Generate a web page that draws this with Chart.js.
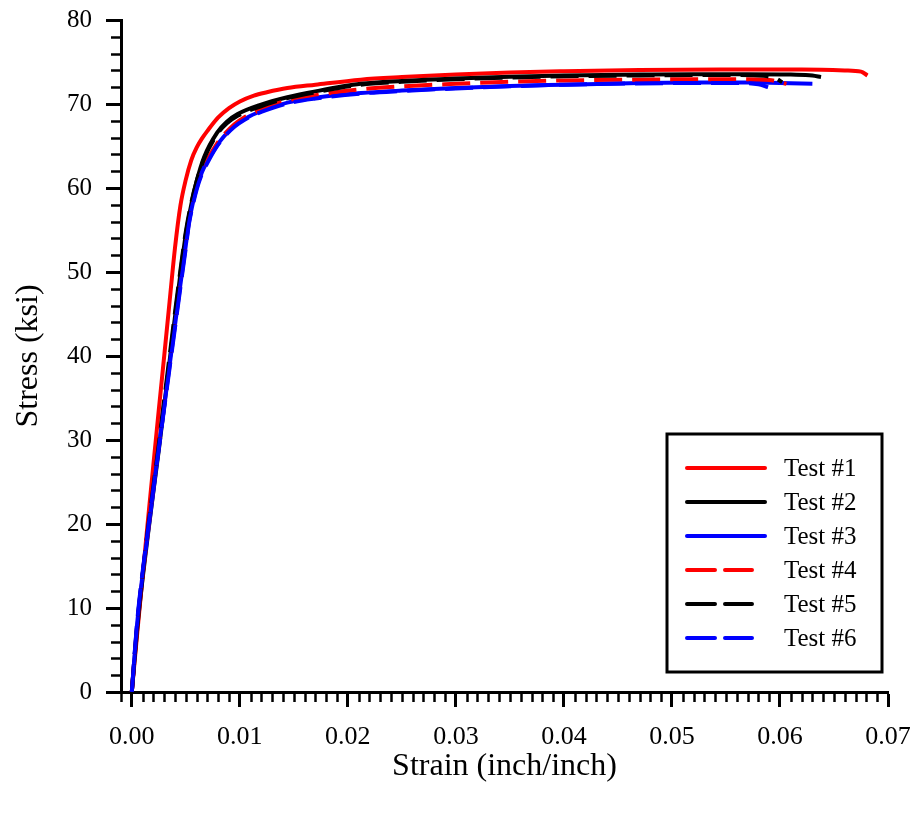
<!DOCTYPE html>
<html><head><meta charset="utf-8">
<script src="https://cdn.jsdelivr.net/npm/chart.js@4.4.0/dist/chart.umd.min.js"></script>
<style>html,body{margin:0;padding:0;background:#fff;}</style>
</head><body>
<canvas id="c" width="915" height="814"></canvas>
<script>
// ---- data ----
const xTickValues = [0, 0.01, 0.02, 0.03, 0.04, 0.05, 0.06, 0.07];
const yTickValues = [0, 10, 20, 30, 40, 50, 60, 70, 80];
const seriesLabels = ['Test #1', 'Test #2', 'Test #3', 'Test #4', 'Test #5', 'Test #6'];
const xTitle = 'Strain (inch/inch)';
const yTitle = 'Stress (ksi)';

const test1Strain = [0, 0.0005, 0.001, 0.0015, 0.002, 0.0025, 0.003, 0.0035, 0.004, 0.0045, 0.005, 0.0055, 0.006, 0.0065, 0.007, 0.008, 0.009, 0.010, 0.0113, 0.0125, 0.0144, 0.017, 0.0212, 0.025, 0.030, 0.035, 0.040, 0.047, 0.055, 0.062, 0.066, 0.0675, 0.0681];
const test1Stress = [0, 7.0, 13.8, 20.5, 27.1, 33.6, 40.0, 46.5, 52.9, 57.9, 61.0, 63.3, 64.8, 65.9, 66.8, 68.4, 69.5, 70.3, 71.0, 71.4, 71.9, 72.3, 72.9, 73.2, 73.5, 73.75, 73.9, 74.05, 74.1, 74.1, 74.0, 73.85, 73.4];

const test2Strain = [0, 0.0005, 0.001, 0.0015, 0.002, 0.0025, 0.003, 0.0035, 0.004, 0.0045, 0.005, 0.0055, 0.006, 0.0067, 0.0079, 0.0088, 0.0098, 0.0119, 0.0144, 0.017, 0.0212, 0.025, 0.030, 0.035, 0.040, 0.047, 0.052, 0.057, 0.061, 0.063, 0.0638];
const test2Stress = [0, 7.5, 13.5, 18.8, 23.9, 28.8, 34.1, 39.4, 44.7, 49.8, 54.5, 58.0, 60.8, 63.7, 66.6, 67.9, 68.8, 69.9, 70.8, 71.5, 72.4, 72.75, 73.05, 73.25, 73.4, 73.5, 73.55, 73.55, 73.5, 73.4, 73.2];

const test3Strain = [0, 0.0005, 0.001, 0.0015, 0.002, 0.0025, 0.003, 0.0035, 0.004, 0.0045, 0.005, 0.0053, 0.0056, 0.006, 0.0065, 0.007, 0.0078, 0.0085, 0.0095, 0.0104, 0.0115, 0.0125, 0.0145, 0.017, 0.0212, 0.025, 0.030, 0.035, 0.040, 0.047, 0.052, 0.057, 0.060, 0.063];
const test3Stress = [0, 8.2, 14.0, 19.0, 24.0, 29.2, 34.0, 38.9, 43.7, 48.5, 53.2, 56.0, 57.9, 60.0, 61.9, 63.2, 64.9, 66.1, 67.4, 68.2, 68.9, 69.4, 70.2, 70.75, 71.3, 71.6, 71.9, 72.15, 72.3, 72.5, 72.55, 72.55, 72.5, 72.4];

const test4Strain = [0, 0.0005, 0.001, 0.0015, 0.002, 0.0025, 0.003, 0.0035, 0.004, 0.0045, 0.005, 0.0053, 0.0056, 0.006, 0.0065, 0.007, 0.0078, 0.0085, 0.0095, 0.0104, 0.0115, 0.0125, 0.0145, 0.017, 0.0212, 0.025, 0.030, 0.035, 0.040, 0.047, 0.052, 0.056, 0.059, 0.0606];
const test4Stress = [0, 7.8, 13.8, 19.2, 24.4, 29.5, 34.4, 39.2, 44.0, 48.8, 53.4, 56.2, 58.1, 60.2, 62.1, 63.4, 65.1, 66.3, 67.6, 68.4, 69.1, 69.6, 70.45, 71.05, 71.75, 72.1, 72.4, 72.65, 72.8, 72.9, 72.95, 72.95, 72.85, 72.4];

const test5Strain = [0, 0.0005, 0.001, 0.0015, 0.002, 0.0025, 0.003, 0.0035, 0.004, 0.0045, 0.005, 0.0055, 0.006, 0.0067, 0.0079, 0.0088, 0.0098, 0.0119, 0.0144, 0.017, 0.0212, 0.025, 0.030, 0.035, 0.040, 0.047, 0.052, 0.056, 0.0585, 0.0596, 0.0602];
const test5Stress = [0, 8.0, 14.0, 19.5, 24.5, 29.5, 34.8, 40.0, 45.2, 50.2, 54.8, 58.2, 60.8, 63.5, 66.4, 67.7, 68.6, 69.7, 70.7, 71.4, 72.3, 72.65, 72.95, 73.15, 73.3, 73.4, 73.45, 73.45, 73.35, 73.05, 72.6];

const test6Strain = [0, 0.0005, 0.001, 0.0015, 0.002, 0.0025, 0.003, 0.0035, 0.004, 0.0045, 0.005, 0.0053, 0.0056, 0.006, 0.0065, 0.007, 0.0078, 0.0085, 0.0095, 0.0104, 0.0115, 0.0125, 0.0145, 0.017, 0.0212, 0.025, 0.030, 0.035, 0.040, 0.047, 0.052, 0.056, 0.058, 0.0589];
const test6Stress = [0, 8.4, 14.3, 19.3, 24.2, 29.0, 33.8, 38.6, 43.4, 48.2, 52.9, 55.8, 57.7, 59.8, 61.7, 63.0, 64.8, 66.0, 67.3, 68.1, 68.8, 69.3, 70.1, 70.65, 71.25, 71.55, 71.85, 72.1, 72.3, 72.45, 72.5, 72.5, 72.35, 72.0];

const strainSets = [test1Strain, test2Strain, test3Strain, test4Strain, test5Strain, test6Strain];
const stressSets = [test1Stress, test2Stress, test3Stress, test4Stress, test5Stress, test6Stress];
const lineColors = ['#ff0000', '#000000', '#0000ff', '#ff0000', '#000000', '#0000ff'];
const lineDashes = [[], [], [], [28, 10], [28, 10], [28, 10]];

const FONT = "'Liberation Serif', 'Times New Roman', serif";

const datasets = seriesLabels.map((lab, i) => ({
  label: lab,
  data: strainSets[i].map((x, j) => ({x: x, y: stressSets[i][j]})),
  borderColor: lineColors[i],
  backgroundColor: lineColors[i],
  borderWidth: 4,
  borderDash: lineDashes[i],
  pointRadius: 0,
  cubicInterpolationMode: 'monotone',
  fill: false,
  order: 6 - i
}));

// minor ticks plugin (drawn through the scales)
const minorTicks = {
  id: 'minorTicks',
  afterDraw(chart) {
    const {ctx, scales: {x, y}} = chart;
    ctx.save();
    ctx.strokeStyle = '#000';
    ctx.lineWidth = 2.5;
    const ax = x.top + 1;
    for (let k = -1; k <= 70; k++) {
      if (k % 10 === 0) continue;
      const px = Math.round(x.getPixelForValue(k / 1000)) + 0.5;
      ctx.beginPath(); ctx.moveTo(px, ax); ctx.lineTo(px, ax + 9); ctx.stroke();
    }
    const ay = y.right - 1;
    for (let k = 0; k <= 80; k += 2) {
      if (k % 10 === 0) continue;
      const py = Math.round(y.getPixelForValue(k)) + 0.5;
      ctx.beginPath(); ctx.moveTo(ay, py); ctx.lineTo(ay - 9, py); ctx.stroke();
    }
    ctx.restore();
  }
};

// framed legend plugin
const boxLegend = {
  id: 'boxLegend',
  afterDraw(chart) {
    const ctx = chart.ctx;
    const L = 667, T = 434, R = 882, B = 672;
    ctx.save();
    ctx.fillStyle = '#fff';
    ctx.fillRect(L, T, R - L, B - T);
    ctx.strokeStyle = '#000';
    ctx.lineWidth = 3;
    ctx.strokeRect(L, T, R - L, B - T);
    chart.data.datasets.forEach((ds, i) => {
      const yy = 468 + i * 34;
      ctx.strokeStyle = ds.borderColor;
      ctx.lineWidth = 4;
      ctx.lineCap = 'round';
      const dash = ds.borderDash || [];
      ctx.setLineDash(dash);
      ctx.beginPath();
      ctx.moveTo(687, yy);
      ctx.lineTo(dash.length ? 752 : 765, yy);
      ctx.stroke();
      ctx.setLineDash([]);
      ctx.fillStyle = '#000';
      ctx.font = "25px " + FONT;
      ctx.textBaseline = 'middle';
      ctx.textAlign = 'left';
      ctx.fillText(ds.label, 784, yy + 1);
    });
    ctx.restore();
  }
};

function zeroPad(s) { s.paddingTop = 0; s.paddingBottom = 0; s.paddingLeft = 0; s.paddingRight = 0; }

new Chart(document.getElementById('c'), {
  type: 'line',
  data: {datasets: datasets},
  options: {
    responsive: false,
    animation: false,
    events: [],
    layout: {padding: {left: 0, right: 27, top: 20, bottom: 0}},
    plugins: {legend: {display: false}, tooltip: {enabled: false}},
    scales: {
      x: {
        type: 'linear',
        min: -0.001,
        max: 0.07,
        afterBuildTicks: (s) => { s.ticks = xTickValues.map(v => ({value: v})); },
        afterFit: (s) => { s.height = 122; zeroPad(s); },
        border: {display: true, color: '#000', width: 3},
        grid: {display: true, drawOnChartArea: false, drawTicks: true, tickLength: 15, tickWidth: 3, tickColor: '#000', color: '#000'},
        ticks: {
          color: '#000', font: {family: FONT, size: 26}, padding: 15, maxRotation: 0, autoSkip: false,
          callback: (v) => Number(v).toFixed(2)
        },
        title: {display: true, text: xTitle, color: '#000', font: {family: FONT, size: 32}, padding: {top: 0, bottom: 28}}
      },
      y: {
        type: 'linear',
        min: 0,
        max: 80,
        afterBuildTicks: (s) => { s.ticks = yTickValues.map(v => ({value: v})); },
        afterFit: (s) => { s.width = 121; zeroPad(s); },
        border: {display: true, color: '#000', width: 3},
        grid: {display: true, drawOnChartArea: false, drawTicks: true, tickLength: 15, tickWidth: 3, tickColor: '#000', color: '#000'},
        ticks: {
          color: '#000', font: {family: FONT, size: 25}, padding: 14, autoSkip: false,
          callback: (v) => String(v)
        },
        title: {display: true, text: yTitle, color: '#000', font: {family: FONT, size: 32}, padding: {top: 9, bottom: 0}}
      }
    }
  },
  plugins: [minorTicks, boxLegend]
});
</script>
</body></html>
